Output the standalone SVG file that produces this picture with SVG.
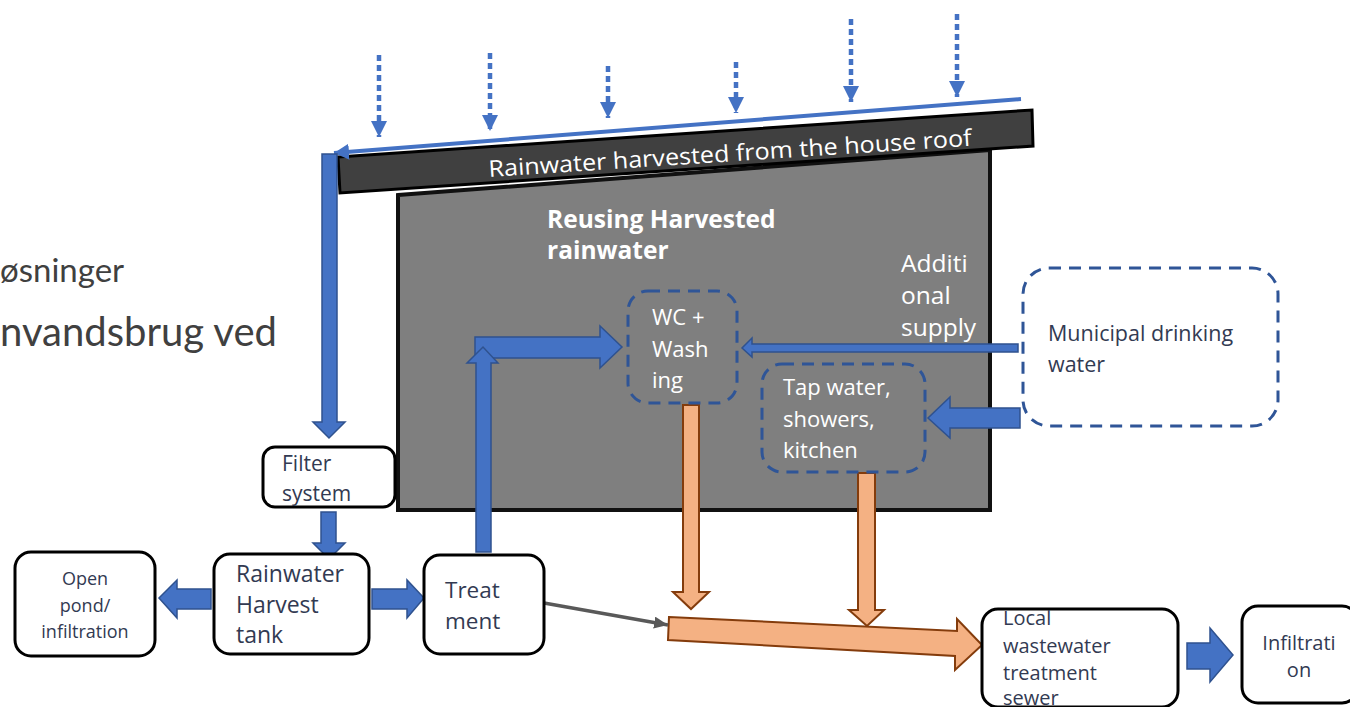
<svg xmlns="http://www.w3.org/2000/svg" width="1350" height="707" viewBox="0 0 1350 707">
<defs>
<style>
.box{fill:#fff;stroke:#000;stroke-width:3}
.dbox{fill:none;stroke:#2f5597;stroke-width:3;stroke-dasharray:12 8}
.bt{font-family:"Open Sans","Liberation Sans",sans-serif;fill:#323a52}
.wt{font-family:"Open Sans","Liberation Sans",sans-serif;fill:#fff}
.barrow{fill:#4472c4;stroke:#2f528f;stroke-width:1.5}
.oarrow{fill:#f4b183;stroke:#843c0c;stroke-width:2}
.rain{stroke:#4472c4;stroke-width:4.5;stroke-dasharray:6 4;fill:none}
.bg{font-family:Lato,"Open Sans",sans-serif;fill:#404040}
</style>
<marker id="rh" markerUnits="userSpaceOnUse" markerWidth="18" markerHeight="18" refX="16" refY="8" orient="auto" viewBox="0 0 18 18">
<path d="M0,0 L16,8 L0,16 Z" fill="#4472c4"/>
</marker>
<marker id="gh" markerUnits="userSpaceOnUse" markerWidth="16" markerHeight="14" refX="14" refY="6" orient="auto" viewBox="0 0 16 14">
<path d="M0,0 L14,6 L0,12 Z" fill="#595959"/>
</marker>
<marker id="gu" markerUnits="userSpaceOnUse" markerWidth="18" markerHeight="18" refX="15" refY="8" orient="auto" viewBox="0 0 18 18">
<path d="M0,0 L15,8 L0,16 Z" fill="#4472c4"/>
</marker>
</defs>

<g id="background-text">
<text class="bg" x="0" y="282" font-size="33">øsninger</text>
<text class="bg" x="0" y="346" font-size="40">nvandsbrug ved</text>
</g>

<g id="house">
<polygon points="398,195 990,150 990,510 398,510" fill="#7f7f7f" stroke="#111" stroke-width="4"/>
<text class="wt" x="547" y="228" font-size="24.5" font-weight="bold">Reusing Harvested</text>
<text class="wt" x="547" y="259" font-size="24.5" font-weight="bold">rainwater</text>
</g>

<g id="roof">
<polygon points="338,157 1032,110 1033,146 340,193" fill="#404040" stroke="#000" stroke-width="3"/>
<text class="wt" x="489" y="177" font-size="23" transform="rotate(-3.7 489 177)" textLength="484" lengthAdjust="spacingAndGlyphs">Rainwater harvested from the house roof</text>
</g>

<g id="rain">
<line class="rain" x1="379" y1="55" x2="379" y2="137" marker-end="url(#rh)"/>
<line class="rain" x1="490" y1="53" x2="490" y2="131" marker-end="url(#rh)"/>
<line class="rain" x1="608" y1="66" x2="608" y2="118" marker-end="url(#rh)"/>
<line class="rain" x1="736" y1="62" x2="736" y2="113" marker-end="url(#rh)"/>
<line class="rain" x1="851" y1="19" x2="851" y2="102" marker-end="url(#rh)"/>
<line class="rain" x1="957" y1="14" x2="957" y2="97" marker-end="url(#rh)"/>
</g>

<g id="connectors">
<line x1="1021" y1="99" x2="334" y2="153" stroke="#4472c4" stroke-width="4" marker-end="url(#gu)"/>
<polygon class="barrow" points="322,154 337,154 337,422 345,422 329,438 313,422 322,422"/>
<polygon class="barrow" points="321,512 336,512 336,543 345,543 329,559 313,543 321,543"/>
<polygon class="barrow" points="211,589 177,589 177,580 159,598 177,618 177,609 211,609"/>
<polygon class="barrow" points="372,589 407,589 407,580 424,598 407,618 407,609 372,609"/>
<polygon class="barrow" points="475,337 600,337 600,326 622,347 600,368 600,358 475,358"/>
<polygon class="barrow" points="476,552 476,363 467,363 483,347 498,363 491,363 491,552"/>
<polygon class="barrow" points="1018,344 752,344 752,338 742,348 752,357 752,352 1018,352"/>
<polygon class="barrow" points="1020,408 950,408 950,397 928,418 950,438 950,428 1020,428"/>
<polygon class="barrow" points="1187,643 1210,643 1210,628 1233,655 1210,682 1210,669 1187,669"/>
<polygon class="oarrow" points="683,405 699,405 699,592 709,592 691,609 673,592 683,592"/>
<polygon class="oarrow" points="858,473 875,473 875,610 884,610 867,626 849,610 858,610"/>
<polygon class="oarrow" points="669,617 957,631 957,619 982,645 955,670 955,656 668,640"/>
<line x1="544" y1="603" x2="668" y2="625" stroke="#595959" stroke-width="3.5" marker-end="url(#gh)"/>
</g>

<g id="filter-system">
<rect class="box" x="263" y="447" width="132" height="60" rx="12"/>
<text class="bt" x="282" y="471" font-size="21">Filter</text>
<text class="bt" x="282" y="501" font-size="21">system</text>
</g>

<g id="rainwater-tank">
<rect class="box" x="214" y="554" width="155" height="100" rx="16"/>
<text class="bt" x="236" y="582" font-size="23">Rainwater</text>
<text class="bt" x="236" y="613" font-size="23">Harvest</text>
<text class="bt" x="236" y="643" font-size="23">tank</text>
</g>

<g id="open-pond">
<rect class="box" x="15" y="552" width="140" height="104" rx="16"/>
<text class="bt" x="85" y="585" font-size="18" text-anchor="middle">Open</text>
<text class="bt" x="85" y="612" font-size="18" text-anchor="middle">pond/</text>
<text class="bt" x="85" y="638" font-size="18" text-anchor="middle">infiltration</text>
</g>

<g id="treatment">
<rect class="box" x="424" y="555" width="120" height="99" rx="16"/>
<text class="bt" x="445" y="598" font-size="22.5">Treat</text>
<text class="bt" x="445" y="629" font-size="22.5">ment</text>
</g>

<g id="wc-washing">
<rect class="dbox" x="628" y="291" width="109" height="112" rx="20"/>
<text class="wt" x="652" y="325" font-size="22">WC +</text>
<text class="wt" x="652" y="357" font-size="22">Wash</text>
<text class="wt" x="652" y="388" font-size="22">ing</text>
</g>

<g id="additional-supply">
<text class="wt" x="901" y="272" font-size="24.5">Additi</text>
<text class="wt" x="901" y="304" font-size="24.5">onal</text>
<text class="wt" x="901" y="336" font-size="24.5">supply</text>
</g>

<g id="tap-water">
<rect class="dbox" x="762" y="364" width="163" height="108" rx="20"/>
<text class="wt" x="783" y="395" font-size="22">Tap water,</text>
<text class="wt" x="783" y="427" font-size="22">showers,</text>
<text class="wt" x="783" y="458" font-size="22">kitchen</text>
</g>

<g id="municipal">
<rect class="dbox" x="1023" y="268" width="255" height="158" rx="26"/>
<text class="bt" x="1048" y="341" font-size="21.5">Municipal drinking</text>
<text class="bt" x="1048" y="372" font-size="21.5">water</text>
</g>

<g id="local-wastewater">
<rect class="box" x="982" y="609" width="196" height="98" rx="16"/>
<text class="bt" x="1003" y="625" font-size="20">Local</text>
<text class="bt" x="1003" y="653" font-size="20">wastewater</text>
<text class="bt" x="1003" y="680" font-size="20">treatment</text>
<text class="bt" x="1003" y="705" font-size="20">sewer</text>
</g>

<g id="infiltration">
<rect class="box" x="1242" y="606" width="116" height="97" rx="16"/>
<text class="bt" x="1299" y="650" font-size="20" text-anchor="middle">Infiltrati</text>
<text class="bt" x="1299" y="677" font-size="20" text-anchor="middle">on</text>
</g>
</svg>
